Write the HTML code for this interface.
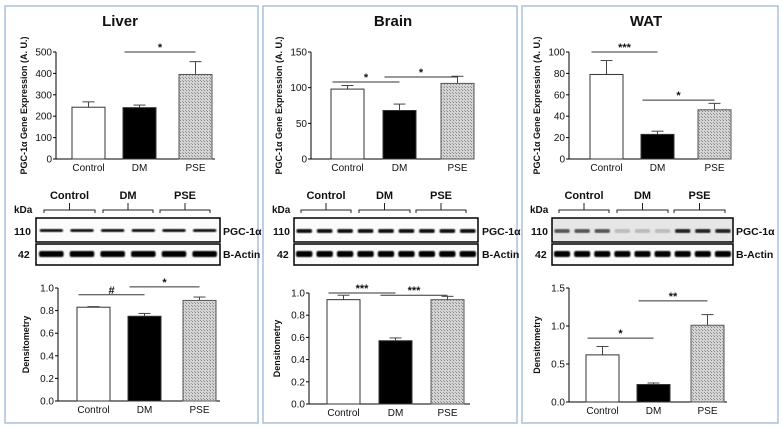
<!DOCTYPE html>
<html><head><meta charset="utf-8"><style>
body{margin:0;background:#fff;font-family:"Liberation Sans",Arial,sans-serif}
svg{display:block}
</style></head><body>
<svg id="fig" width="783" height="429" viewBox="0 0 783 429" xmlns="http://www.w3.org/2000/svg">
<defs>
<pattern id="hatch" width="3" height="3" patternUnits="userSpaceOnUse">
<rect width="3" height="3" fill="#d4d4d4"/><rect width="1" height="1" fill="#888"/><rect x="2" y="2" width="1" height="1" fill="#999"/>
</pattern>
<filter id="blur"><feGaussianBlur stdDeviation="0.8"/></filter>
</defs>
<rect x="5" y="6" width="253" height="417" fill="none" stroke="#a9c1d9" stroke-width="1.5"/>
<rect x="263" y="6" width="254" height="417" fill="none" stroke="#a9c1d9" stroke-width="1.5"/>
<rect x="522" y="6" width="256" height="417" fill="none" stroke="#a9c1d9" stroke-width="1.5"/>
</svg>
<script>
const categories = ["Control","DM","PSE"];
const tissues = ["Liver","Brain","WAT"];
const geneValues = [[242,240,395],[98,68,106],[79,23,46]];
const geneErrors = [[25,12,60],[5,9,10],[13,3,6]];
const geneTicks = [[0,100,200,300,400,500],[0,50,100,150],[0,20,40,60,80,100]];
const densValues = [[0.83,0.75,0.89],[0.94,0.57,0.94],[0.62,0.23,1.01]];
const densErrors = [[0.005,0.025,0.03],[0.04,0.025,0.03],[0.11,0.02,0.14]];
const densTicks = [[0,0.2,0.4,0.6,0.8,1.0],[0,0.2,0.4,0.6,0.8,1.0],[0,0.5,1.0,1.5]];
const densTickLabels = [["0.0","0.2","0.4","0.6","0.8","1.0"],["0.0","0.2","0.4","0.6","0.8","1.0"],["0.0","0.5","1.0","1.5"]];
const geneSig = [[[1,2,"*",500]],[[0,1,"*",108],[1,2,"*",115]],[[0,1,"***",100],[1,2,"*",55]]];
const densSig = [[[0,1,"#",0.94],[1,2,"*",1.01]],[[0,1,"***",1.0],[1,2,"***",0.98]],[[0,1,"*",0.84],[1,2,"**",1.33]]];
const lanes = [6,9,9];

const svg=document.getElementById('fig');
const NS="http://www.w3.org/2000/svg";
function mk(tag,attrs,parent){const e=document.createElementNS(NS,tag);for(const k in attrs)e.setAttribute(k,attrs[k]);(parent||svg).appendChild(e);return e;}
function txt(x,y,s,size,anchor,weight,parent){const t=mk('text',{x:x,y:y,'font-size':size,'text-anchor':anchor||'middle','font-weight':weight||'bold','font-family':'"Liberation Sans",Arial,sans-serif',fill:'#111'},parent);t.textContent=s;return t;}

const L=[
 {title:120, top:{ax:56,y0:159,y1:52,bx:[72,123,179],bw:33,xEnd:215},
  bot:{ax:58,y0:401,y1:288,bx:[77,128,183],bw:33,xEnd:220},
  blot:{x0:36,x1:220,lab:14,right:223,gx:[[44,95],[103,153],[160,210]]}},
 {title:393, top:{ax:311,y0:159,y1:52,bx:[331,383,441],bw:33,xEnd:472},
  bot:{ax:309,y0:404,y1:293,bx:[327,379,431],bw:33,xEnd:470},
  blot:{x0:294,x1:478,lab:273,right:482,gx:[[301,351],[359,410],[416,466]]}},
 {title:646, top:{ax:569,y0:159,y1:52,bx:[590,641,698],bw:33,xEnd:730},
  bot:{ax:569,y0:402,y1:288,bx:[586,637,691],bw:33,xEnd:727},
  blot:{x0:552,x1:733,lab:531,right:736,gx:[[559,609],[617,668],[674,725]]}}
];
const fills=['#fff','#000','url(#hatch)'];

function chart(g,cfg,vals,errs,ticks,tlabels,sigs,ylabel,name){
  const max=ticks[ticks.length-1];
  const y=v=>cfg.y0-(v/max)*(cfg.y0-cfg.y1);
  const G=mk('g',{},g);
  
  
  mk('line',{x1:cfg.ax,y1:cfg.y1,x2:cfg.ax,y2:cfg.y0,stroke:'#000','stroke-width':1},G);
  mk('line',{x1:cfg.ax,y1:cfg.y0,x2:cfg.xEnd,y2:cfg.y0,stroke:'#000','stroke-width':1},G);
  ticks.forEach((t,i)=>{
    mk('line',{x1:cfg.ax-3,y1:y(t),x2:cfg.ax,y2:y(t),stroke:'#000'},G);
    const tl=txt(cfg.ax-4,y(t)+3.5,tlabels?tlabels[i]:String(t),10,'end','normal',G);
    
    
  });
  const yl=txt(0,0,ylabel,9,'middle','bold',G);
  yl.setAttribute('transform',`translate(${cfg.ax-29},${(cfg.y0+cfg.y1)/2}) rotate(-90)`);
  
  
  vals.forEach((v,i)=>{
    const x=cfg.bx[i],w=cfg.bw,cx=x+w/2;
    const et=y(v+errs[i]);
    mk('line',{x1:cx,y1:y(v),x2:cx,y2:et,stroke:'#444'},G);
    mk('line',{x1:cx-6,y1:et,x2:cx+6,y2:et,stroke:'#444'},G);
    const b=mk('rect',{x:x,y:y(v),width:w,height:cfg.y0-y(v),fill:fills[i],stroke:i==2?'#555':'#333','stroke-width':1},G);
    
    
    const cl=txt(cx,cfg.y0+12,categories[i],10,'middle','normal',G);
    
    
  });
  sigs.forEach(s=>{
    const xa=cfg.bx[s[0]]+cfg.bw/2-15,xb=cfg.bx[s[1]]+cfg.bw/2;
    const yy=y(s[3]);
    mk('line',{x1:xa,y1:yy,x2:xb,y2:yy,stroke:'#333'},G);
    const st=txt((xa+xb)/2,yy-1,s[2],11,'middle','bold',G);
    
    
  });
}

function blot(g,cfg,n,ti){
  const G=mk('g',{},g);
  
  
  cfg.gx.forEach((r,i)=>{
    const gl=txt((r[0]+r[1])/2,199,categories[i],11,'middle','bold',G);
    
    
    mk('path',{d:`M${r[0]},213 V210 H${r[1]} V213 M${(r[0]+r[1])/2},210 V203`,fill:'none',stroke:'#222','stroke-width':1},G);
  });
  txt(cfg.x0-22,213,'kDa',10,'start','bold',G);
  txt(cfg.lab,235,'110',10.5,'start','bold',G);
  txt(cfg.lab+4,258,'42',10.5,'start','bold',G);
  mk('rect',{x:cfg.x0,y:218,width:cfg.x1-cfg.x0,height:24,fill:ti==2?'#e6e6e6':'#fbfbfb',stroke:'#000','stroke-width':1.5},G);
  mk('rect',{x:cfg.x0,y:244,width:cfg.x1-cfg.x0,height:21,fill:'#fbfbfb',stroke:'#000','stroke-width':1.5},G);
  const lw=(cfg.x1-cfg.x0)/n;
  for(let i=0;i<n;i++){
    const cx=cfg.x0+lw*(i+0.5);
    const dark = ti==2 ? (i<3?'#555':(i<6?'#bbb':'#222')) : '#111';
    const th = ti==0?3:4;
    mk('rect',{x:cx-lw*0.38,y:229,width:lw*0.76,height:th,rx:1.5,fill:dark,filter:'url(#blur)'},G);
    mk('rect',{x:cx-lw*0.4,y:251,width:lw*0.8,height:6,rx:2,fill:'#000',filter:'url(#blur)'},G);
  }
  txt(cfg.right,235,'PGC-1α',10.5,'start','bold',G);
  txt(cfg.right,258,'B-Actin',10.5,'start','bold',G);
}

tissues.forEach((t,i)=>{
  const g=mk('g',{});
  
  
  const tt=txt(L[i].title,26,t,15,'middle','bold',g);
  
  
  chart(g,L[i].top,geneValues[i],geneErrors[i],geneTicks[i],null,geneSig[i],'PGC-1α Gene Expression (A. U.)',t.toLowerCase()+'-gene-chart');
  blot(g,L[i].blot,lanes[i],i);
  chart(g,L[i].bot,densValues[i],densErrors[i],densTicks[i],densTickLabels[i],densSig[i],'Densitometry',t.toLowerCase()+'-densitometry-chart');
});
</script>
</body></html>
